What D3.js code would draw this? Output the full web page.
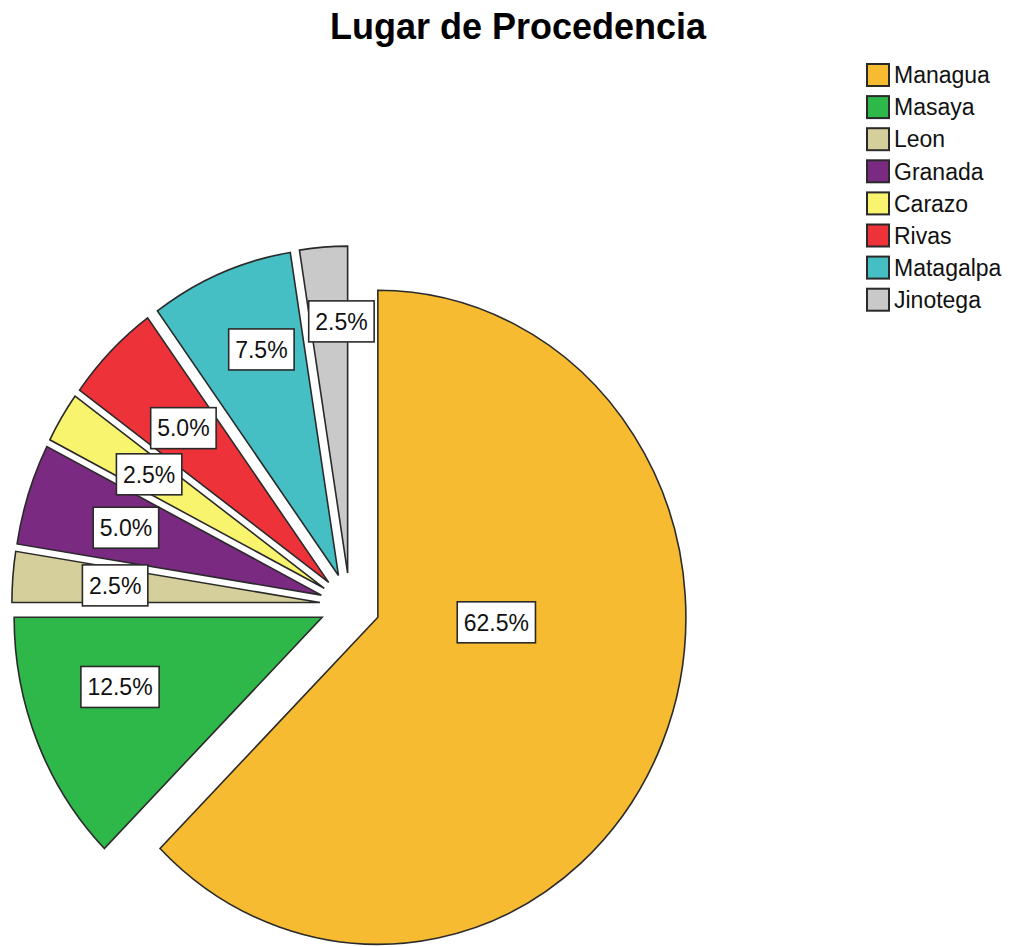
<!DOCTYPE html>
<html>
<head>
<meta charset="utf-8">
<script src="https://cdn.jsdelivr.net/npm/d3@7"></script>
<style>
  html, body { margin: 0; padding: 0; background: #fff; }
  svg { display: block; }
</style>
</head>
<body>
<svg id="chart" width="1010" height="947"></svg>
<script>
// ---- data ----
const categories = ["Managua", "Masaya", "Leon", "Granada", "Carazo", "Rivas", "Matagalpa", "Jinotega"];
const percents = [62.5, 12.5, 2.5, 5.0, 2.5, 5.0, 7.5, 2.5];
const colors = ["#F6BB31", "#2EB84A", "#D5CF9B", "#7B2A82", "#F9F46E", "#EE3239", "#46BFC4", "#C9C9C9"];
const title = "Lugar de Procedencia";

// ---- layout (not data) ----
const cx = 350, cy = 605;       // pie centre
const R = 327;                  // radius (vertical)
const sx = 0.942;               // horizontal squash of the picture
const explode = 32;             // offset of every slice
// label angle shift (deg) and radius fraction, SPSS-like placement
const labelShift = [-20.2, 4.5, 0, 0, 0, 0, 2.6, 3];
const labelFrac = [0.385, 0.69, 0.667, 0.667, 0.667, 0.667, 0.735, 0.77];

const svg = d3.select("#chart");

svg.append("text")
  .attr("x", 518).attr("y", 39)
  .attr("text-anchor", "middle")
  .attr("font-family", "Liberation Sans, Arial, sans-serif")
  .attr("font-weight", "bold")
  .attr("font-size", 36)
  .attr("fill", "#000")
  .text(title);

const pie = d3.pie().sort(null).value(d => d)(percents);
const arc = d3.arc().innerRadius(0).outerRadius(R);

const g = svg.append("g").attr("transform", `translate(${cx},${cy}) scale(${sx},1)`);

const dir = a => [Math.sin(a), -Math.cos(a)];

g.selectAll("path.slice")
  .data(pie)
  .join("path")
  .attr("class", "slice")
  .attr("d", arc)
  .attr("transform", d => {
    const m = (d.startAngle + d.endAngle) / 2;
    const [ux, uy] = dir(m);
    return `translate(${ux * explode},${uy * explode})`;
  })
  .attr("fill", (d, i) => colors[i])
  .attr("stroke", "#2a2a2a")
  .attr("stroke-width", 1.6)
  .attr("stroke-linejoin", "miter")
  .attr("vector-effect", "non-scaling-stroke");

// labels
const lg = svg.append("g");
pie.forEach((d, i) => {
  const m = (d.startAngle + d.endAngle) / 2;
  const [ux, uy] = dir(m);
  const ax = cx + ux * explode * sx, ay = cy + uy * explode;
  const la = m + labelShift[i] * Math.PI / 180;
  const [lx, ly] = dir(la);
  const px = ax + lx * R * labelFrac[i] * sx;
  const py = ay + ly * R * labelFrac[i];
  const grp = lg.append("g").attr("transform", `translate(${px},${py})`);
  const rect = grp.append("rect").attr("fill", "#fff").attr("stroke", "#2a2a2a").attr("stroke-width", 1.6);
  const t = grp.append("text")
    .attr("text-anchor", "middle")
    .attr("dy", "0.36em")
    .attr("font-family", "Liberation Sans, Arial, sans-serif")
    .attr("font-size", 23)
    .attr("fill", "#111")
    .text(d3.format(".1f")(percents[i]) + "%");
  const bb = t.node().getBBox();
  const bw = bb.width + 13, bh = 41;
  rect.attr("x", -bw / 2).attr("y", -bh / 2).attr("width", bw).attr("height", bh);
});

// legend
const leg = svg.append("g").attr("transform", "translate(867,64)");
const rowH = 32.1;
const items = leg.selectAll("g").data(categories).join("g")
  .attr("transform", (d, i) => `translate(0,${i * rowH})`);
items.append("rect")
  .attr("x", 0).attr("y", 0).attr("width", 22).attr("height", 22)
  .attr("fill", (d, i) => colors[i])
  .attr("stroke", "#2a2a2a").attr("stroke-width", 2);
items.append("text")
  .attr("x", 27).attr("y", 11).attr("dy", "0.36em")
  .attr("font-family", "Liberation Sans, Arial, sans-serif")
  .attr("font-size", 23)
  .attr("fill", "#111")
  .text(d => d);
</script>
</body>
</html>
